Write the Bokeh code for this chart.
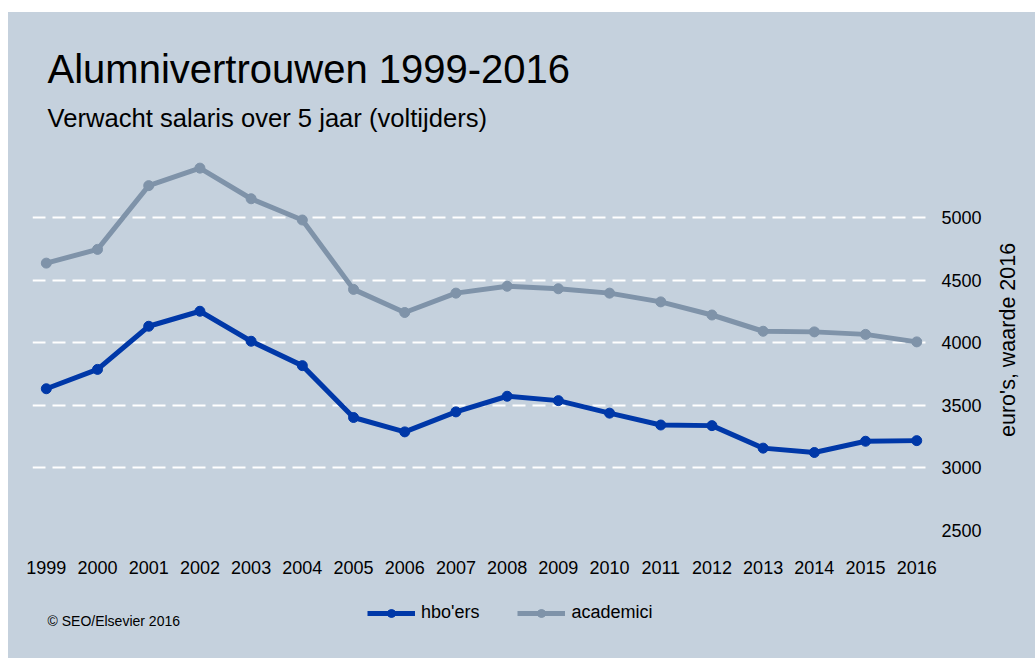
import math
from bokeh.plotting import figure
from bokeh.layouts import column, row
from bokeh.models import (ColumnDataSource, FixedTicker, Label, Legend, LegendItem, Title, Div)
from bokeh.embed import file_html
from bokeh.resources import INLINE

years = list(range(1999, 2017))
hbo = [3630, 3785, 4130, 4250, 4010, 3815, 3400, 3285, 3445, 3570, 3535, 3435,
       3340, 3335, 3155, 3120, 3210, 3215]
academici = [4635, 4745, 5255, 5395, 5150, 4980, 4425, 4240, 4395, 4450, 4430, 4395,
             4325, 4220, 4090, 4085, 4065, 4005]
y_ticks = [2500, 3000, 3500, 4000, 4500, 5000]
grid_ticks = [3000, 3500, 4000, 4500, 5000]

title_text = "Alumnivertrouwen 1999-2016"
subtitle_text = "Verwacht salaris over 5 jaar (voltijders)"
y_label = "euro's, waarde 2016"
credit_text = "\u00a9 SEO/Elsevier 2016"

BG = "#c5d1dd"
BLUE = "#0038a8"
GREY = "#7f93a9"
FONT = "Liberation Sans"

src = ColumnDataSource(dict(year=years, hbo=hbo, academici=academici))

# ---------------- main chart ----------------
p = figure(width=977, height=578, x_range=(1998.73, 2016.21), y_range=(2400, 5616),
           output_backend="svg", toolbar_location=None, y_axis_location="right",
           title=None,
           min_border_left=24, min_border_right=58, min_border_top=128,
           min_border_bottom=48)
p.margin = (12, 0, 0, 8)
p.styles = {"background-color": BG}
p.background_fill_color = BG
p.border_fill_color = BG
p.outline_line_color = None

p.add_layout(Title(text=subtitle_text, align="left", offset=15, standoff=17,
                   text_font=FONT, text_font_size="25.6px", text_font_style="normal",
                   text_color="#000000"), "above")
p.add_layout(Title(text=title_text, align="left", offset=15, standoff=6,
                   text_font=FONT, text_font_size="40px", text_font_style="normal",
                   text_color="#000000"), "above")

l1 = p.line("year", "hbo", source=src, line_color=BLUE, line_width=5)
s1 = p.scatter("year", "hbo", source=src, size=10, fill_color=BLUE, line_color=BLUE)
l2 = p.line("year", "academici", source=src, line_color=GREY, line_width=5)
s2 = p.scatter("year", "academici", source=src, size=10, fill_color=GREY, line_color=GREY)

xa = p.xaxis[0]
xa.ticker = FixedTicker(ticks=years)
xa.axis_line_color = None
xa.major_tick_line_color = None
xa.minor_tick_line_color = None
xa.major_tick_out = 0
xa.major_tick_in = 0
xa.major_label_standoff = 18
xa.major_label_text_font = FONT
xa.major_label_text_font_size = "18px"
xa.major_label_text_color = "#000000"

ya = p.yaxis[0]
ya.ticker = FixedTicker(ticks=y_ticks)
ya.axis_line_color = None
ya.major_tick_line_color = None
ya.minor_tick_line_color = None
ya.major_tick_out = 0
ya.major_tick_in = 0
ya.major_label_standoff = 14
ya.major_label_text_font = FONT
ya.major_label_text_font_size = "18px"
ya.major_label_text_color = "#000000"

p.xgrid.visible = False
p.ygrid.ticker = FixedTicker(ticks=grid_ticks)
p.ygrid.grid_line_color = "white"
p.ygrid.grid_line_width = 2
p.ygrid.grid_line_dash = "13 7"

# ---------------- y-axis title (rotated, reads bottom-to-top) ----------------
side = Div(
    text=('<div style="margin-left:11px; margin-top:233px; width:25px; height:192px; '
          'writing-mode:vertical-rl; transform:rotate(180deg); text-align:center; '
          "font-family:'Liberation Sans'; font-size:21.5px; line-height:25px; "
          'white-space:nowrap; color:#000000;">' + y_label + '</div>'),
    width=50, height=578)
side.margin = (12, 0, 0, 0)
side.styles = {"background-color": BG}

# ---------------- footer: legend and credit ----------------
f = figure(width=1027, height=68, x_range=(0, 1), y_range=(0, 1),
           output_backend="svg", toolbar_location=None, title=None,
           min_border_left=24, min_border_right=108, min_border_top=0, min_border_bottom=0)
f.margin = (0, 0, 0, 8)
f.styles = {"background-color": BG}
f.background_fill_color = BG
f.border_fill_color = BG
f.outline_line_color = None
f.axis.visible = False
f.grid.visible = False

# legend proxies (same series, outside this strip's visible range)
fl1 = f.line("year", "hbo", source=src, line_color=BLUE, line_width=5)
fs1 = f.scatter("year", "hbo", source=src, size=10, fill_color=BLUE, line_color=BLUE)
fl2 = f.line("year", "academici", source=src, line_color=GREY, line_width=5)
fs2 = f.scatter("year", "academici", source=src, size=10, fill_color=GREY, line_color=GREY)

legend = Legend(items=[LegendItem(label="hbo'ers", renderers=[fl1, fs1]),
                       LegendItem(label="academici", renderers=[fl2, fs2])],
                orientation="horizontal", location=(335, 35))
legend.background_fill_alpha = 0
legend.border_line_color = None
legend.padding = 0
legend.margin = 0
legend.spacing = 38
legend.glyph_width = 48
legend.glyph_height = 20
legend.label_standoff = 6
legend.label_text_font = FONT
legend.label_text_font_size = "18px"
legend.label_text_color = "#000000"
f.add_layout(legend, "center")

f.add_layout(Label(x=15, y=38, x_units="screen", y_units="screen", text=credit_text,
                   text_font=FONT, text_font_size="14px", text_color="#000000",
                   text_baseline="middle"))

layout = column(row(p, side, spacing=0), f, spacing=0)
open("out.html", "w").write(file_html(layout, INLINE))
